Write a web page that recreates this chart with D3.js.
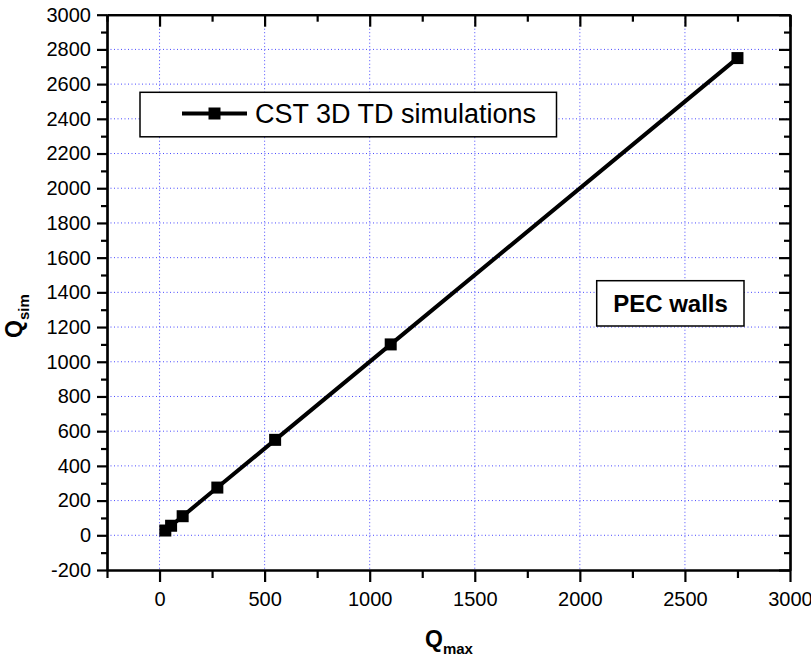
<!DOCTYPE html>
<html>
<head>
<meta charset="utf-8">
<script src="https://cdn.jsdelivr.net/npm/d3@7"></script>
<style>
  html, body { margin: 0; padding: 0; background: #fff; }
  svg { display: block; font-family: "Liberation Sans", Arial, sans-serif; }
</style>
</head>
<body>
<svg id="chart" width="811" height="661"></svg>
<script>
// Q factor: analytical maximum vs. CST 3D time-domain simulation
const qMax = [27.5, 55, 110, 275, 550, 1100, 2750];
const qSim = [27.5, 55, 110, 275, 550, 1100, 2750];
const xTicks = [0, 500, 1000, 1500, 2000, 2500, 3000];
const yTicks = [-200, 0, 200, 400, 600, 800, 1000, 1200, 1400, 1600, 1800, 2000, 2200, 2400, 2600, 2800, 3000];
const seriesName = "CST 3D TD simulations";
const noteText = "PEC walls";

const svg = d3.select("#chart");
const plotL = 107, plotR = 790, plotT = 14.7, plotB = 570;

const x = d3.scaleLinear().domain([-250, 3000]).range([plotL, plotR]);
const y = d3.scaleLinear().domain([-200, 3000]).range([plotB, plotT]);

const xMinor = d3.range(-250, 3001, 250);
const yMinor = d3.range(-200, 3001, 100);
const fmt = d => String(d); // plain hyphen for negatives

// grid
const grid = svg.append("g").attr("stroke", "#4a4aff").attr("stroke-width", 1)
  .attr("stroke-dasharray", "1,2.5");
grid.selectAll("line.gx").data(xTicks.filter(d => d > -250 && d < 3000)).join("line")
  .attr("x1", d => x(d)).attr("x2", d => x(d)).attr("y1", plotT).attr("y2", plotB);
grid.selectAll("line.gy").data(yTicks.filter(d => d > -200 && d < 3000)).join("line")
  .attr("y1", d => y(d)).attr("y2", d => y(d)).attr("x1", plotL).attr("x2", plotR);

// axes
const tickStyle = g => {
  g.select(".domain").attr("stroke-width", 2.2);
  g.selectAll(".tick line").attr("stroke-width", 2.2);
  g.selectAll("text").attr("font-size", 20).attr("fill", "#000");
};

// bottom: majors outward with labels, minors outward
svg.append("g").attr("transform", `translate(0,${plotB})`)
  .call(d3.axisBottom(x).tickValues(xMinor.filter(d => !xTicks.includes(d))).tickSize(8).tickFormat("").tickSizeOuter(0))
  .call(tickStyle);
svg.append("g").attr("transform", `translate(0,${plotB})`)
  .call(d3.axisBottom(x).tickValues(xTicks).tickSize(12).tickPadding(10).tickFormat(fmt).tickSizeOuter(0))
  .call(tickStyle);

// left
svg.append("g").attr("transform", `translate(${plotL},0)`)
  .call(d3.axisLeft(y).tickValues(yMinor.filter(d => !yTicks.includes(d))).tickSize(6).tickFormat("").tickSizeOuter(0))
  .call(tickStyle);
svg.append("g").attr("transform", `translate(${plotL},0)`)
  .call(d3.axisLeft(y).tickValues(yTicks).tickSize(10).tickPadding(6).tickFormat(fmt).tickSizeOuter(0))
  .call(tickStyle);

// top: inward ticks
svg.append("g").attr("transform", `translate(0,${plotT})`)
  .call(d3.axisBottom(x).tickValues(xMinor.filter(d => !xTicks.includes(d))).tickSize(7).tickFormat("").tickSizeOuter(0))
  .call(tickStyle);
svg.append("g").attr("transform", `translate(0,${plotT})`)
  .call(d3.axisBottom(x).tickValues(xTicks).tickSize(12).tickFormat("").tickSizeOuter(0))
  .call(tickStyle);

// right: inward ticks
svg.append("g").attr("transform", `translate(${plotR},0)`)
  .call(d3.axisLeft(y).tickValues(yMinor.filter(d => !yTicks.includes(d))).tickSize(6).tickFormat("").tickSizeOuter(0))
  .call(tickStyle);
svg.append("g").attr("transform", `translate(${plotR},0)`)
  .call(d3.axisLeft(y).tickValues(yTicks).tickSize(11).tickFormat("").tickSizeOuter(0))
  .call(tickStyle);

// data line and markers
const pts = qMax.map((d, i) => [d, qSim[i]]);
svg.append("path").datum(pts)
  .attr("fill", "none").attr("stroke", "#000").attr("stroke-width", 4)
  .attr("d", d3.line().x(d => x(d[0])).y(d => y(d[1])));
const ms = 12;
svg.selectAll("rect.pt").data(pts).join("rect")
  .attr("x", d => x(d[0]) - ms / 2).attr("y", d => y(d[1]) - ms / 2)
  .attr("width", ms).attr("height", ms).attr("fill", "#000");

// legend
const lg = svg.append("g");
lg.append("rect").attr("x", 140).attr("y", 92.3).attr("width", 416.5).attr("height", 44.5)
  .attr("fill", "#fff").attr("stroke", "#000").attr("stroke-width", 1.5);
lg.append("line").attr("x1", 182).attr("x2", 247).attr("y1", 113.5).attr("y2", 113.5)
  .attr("stroke", "#000").attr("stroke-width", 4);
lg.append("rect").attr("x", 214.5 - ms / 2).attr("y", 113.5 - ms / 2).attr("width", ms).attr("height", ms).attr("fill", "#000");
lg.append("text").attr("x", 255).attr("y", 123).attr("font-size", 27).text(seriesName);

// annotation box
const nb = svg.append("g");
nb.append("rect").attr("x", 596.7).attr("y", 280.7).attr("width", 147.3).attr("height", 45.3)
  .attr("fill", "#fff").attr("stroke", "#000").attr("stroke-width", 1.5);
nb.append("text").attr("x", 670.5).attr("y", 312).attr("text-anchor", "middle")
  .attr("font-size", 24).attr("font-weight", "bold").text(noteText);

// axis titles
const xt = svg.append("text").attr("x", 425).attr("y", 647).attr("font-weight", "bold").attr("font-size", 23);
xt.append("tspan").text("Q");
xt.append("tspan").attr("font-size", 15).attr("dy", 7).text("max");

const yt = svg.append("text").attr("transform", "translate(22,338) rotate(-90)")
  .attr("font-weight", "bold").attr("font-size", 23);
yt.append("tspan").text("Q");
yt.append("tspan").attr("font-size", 15).attr("dy", 7).text("sim");
</script>
</body>
</html>
